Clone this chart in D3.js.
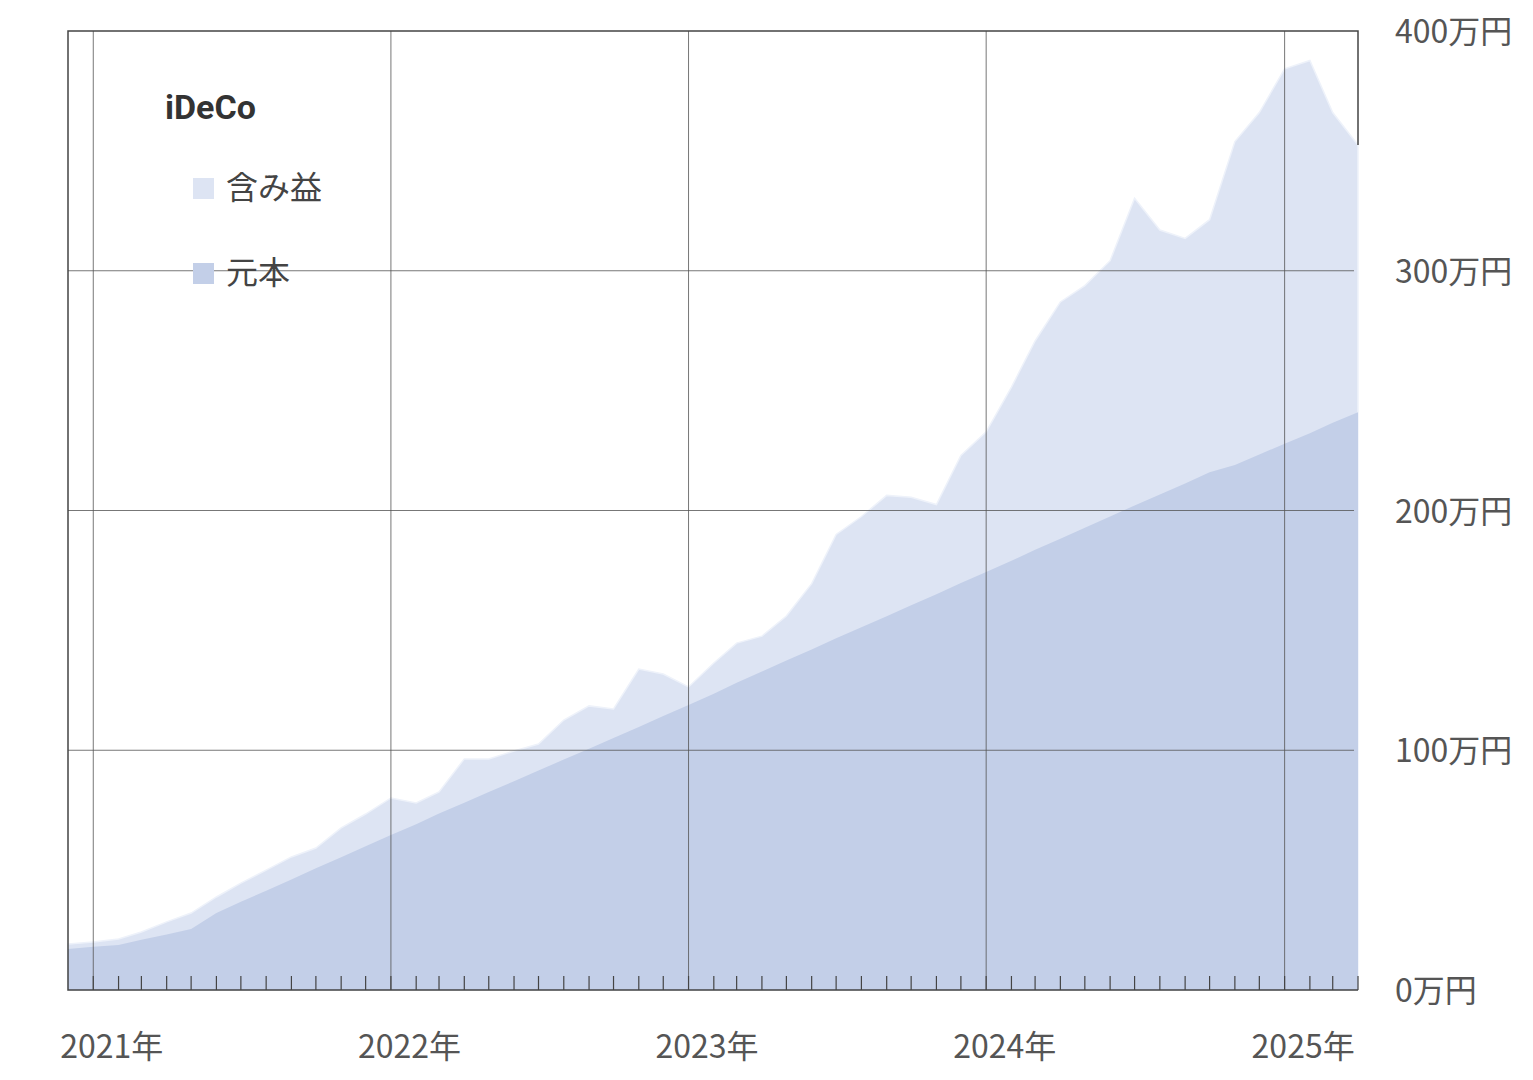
<!DOCTYPE html>
<html>
<meta charset="utf-8">
<style>
body { margin: 0; background: #fff; font-family: "Noto Sans CJK JP", "Noto Sans", sans-serif; }
</style>
<body>
<script src="https://d3js.org/d3.v7.min.js"></script>
<script>
// monthly data, Dec 2020 .. Apr 2025 (万円)
var startMonth = new Date(2020, 11, 1);
var principal = [17.1,18,18.8,21,23.2,25.4,32.1,36.8,41.4,46.1,50.8,55.4,60,64.6,
  69.1,73.6,78.1,82.6,87.1,91.6,96.1,100.6,105.1,109.7,
  114.3,118.9,123.6,128.2,132.8,137.4,142,146.7,151.3,155.9,160.5,165.1,169.8,174.4,
  179,183.6,188.2,192.8,197.5,202.1,206.7,211.3,216,219,223.4,227.8,232.2,236.6,241];
var total = [19.2,20,21.3,24.2,28.4,32.1,38.8,44.6,50,55.5,59.2,67.6,73.4,80.1,
  78,82.6,96.4,96.4,99.7,102.6,112.6,118.5,117.2,133.9,131.8,126.4,136.4,144.7,
  147.6,156,169.5,190,197.5,206.3,205.5,202.5,223,232.8,251.5,270.7,287,293.8,
  304.2,330.2,317,313.5,321.3,353.9,366,384.2,387.7,366,352.4];
var yTicks = [0, 100, 200, 300, 400];
var yearTicks = [2021, 2022, 2023, 2024, 2025];
var seriesNames = ["含み益", "元本"];
var seriesColors = ["#dde4f3", "#c3cfe8"];

var dates = principal.map(function(d, i) { return d3.timeMonth.offset(startMonth, i); });

var W = 1533, H = 1080;
var x0 = 68, x1 = 1358, y0 = 31, y1 = 990;

var svg = d3.select("body").append("svg").attr("width", W).attr("height", H);

var x = d3.scaleTime().domain([dates[0], dates[dates.length - 1]]).range([x0, x1]);
var y = d3.scaleLinear().domain([0, 400]).range([y1, y0]);

var areaTotal = d3.area().x(function(d, i) { return x(dates[i]); }).y0(y1).y1(function(d) { return y(d); });

svg.append("path").datum(total).attr("d", areaTotal)
  .attr("fill", seriesColors[0]).attr("stroke", "#eef2fa").attr("stroke-width", 1.5);
svg.append("path").datum(principal).attr("d", areaTotal)
  .attr("fill", seriesColors[1]);

// gridlines
svg.selectAll(".hg").data(yTicks.slice(1, 4)).enter().append("line")
  .attr("x1", x0).attr("x2", x1 - 4).attr("y1", function(d) { return y(d); }).attr("y2", function(d) { return y(d); })
  .attr("stroke", "#555").attr("stroke-opacity", 0.8).attr("stroke-width", 1);
svg.selectAll(".vg").data(yearTicks).enter().append("line")
  .attr("x1", function(d) { return x(new Date(d, 0, 1)); }).attr("x2", function(d) { return x(new Date(d, 0, 1)); })
  .attr("y1", y0).attr("y2", y1)
  .attr("stroke", "#555").attr("stroke-opacity", 0.8).attr("stroke-width", 1);

// month ticks
var months = d3.timeMonth.range(d3.timeMonth.offset(startMonth, 1), d3.timeMonth.offset(dates[dates.length - 1], 1));
svg.selectAll(".mt").data(months).enter().append("line")
  .attr("x1", function(d) { return x(d); }).attr("x2", function(d) { return x(d); })
  .attr("y1", y1 - 14).attr("y2", y1)
  .attr("stroke", "#444").attr("stroke-width", 1.2);

// frame
svg.append("path")
  .attr("d", "M" + x1 + "," + y(total[total.length - 1]) + "V" + y0 + "H" + x0 + "V" + y1 + "H" + x1)
  .attr("fill", "none").attr("stroke", "#444").attr("stroke-width", 1.5);

// y labels
svg.selectAll(".yl").data(yTicks).enter().append("text")
  .attr("x", 1395).attr("y", function(d) { return y(d) + 12; })
  .attr("font-size", 32).attr("fill", "#555")
  .text(function(d) { return d + "万円"; });

// x labels
svg.selectAll(".xl").data(yearTicks).enter().append("text")
  .attr("x", function(d) { return x(new Date(d, 0, 1)) - 33; }).attr("y", 1058)
  .attr("font-size", 32).attr("fill", "#555")
  .text(function(d) { return d + "年"; });

// legend
svg.append("text").attr("x", 165).attr("y", 119).attr("font-size", 34).attr("font-weight", "bold")
  .attr("fill", "#333").attr("font-family", "Roboto, 'Noto Sans', sans-serif").text("iDeCo");
var lg = svg.selectAll(".lg").data(seriesNames).enter().append("g")
  .attr("transform", function(d, i) { return "translate(193," + (178 + i * 85) + ")"; });
lg.append("rect").attr("width", 21).attr("height", 21).attr("fill", function(d, i) { return seriesColors[i]; });
lg.append("text").attr("x", 33).attr("y", 21).attr("font-size", 32).attr("fill", "#444").text(function(d) { return d; });
</script>
</body>
</html>
